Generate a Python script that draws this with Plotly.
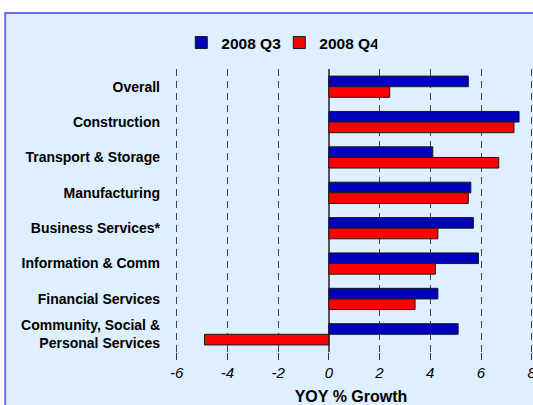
import plotly.graph_objects as go

categories = ["Overall", "Construction", "Transport & Storage", "Manufacturing",
              "Business Services*", "Information & Comm", "Financial Services",
              "Community, Social &<br>Personal Services"]
q3_values = [5.5, 7.5, 4.1, 5.6, 5.7, 5.9, 4.3, 5.1]
q4_values = [2.4, 7.3, 6.7, 5.5, 4.3, 4.2, 3.4, -4.9]
x_ticks = [-6, -4, -2, 0, 2, 4, 6, 8]

fig = go.Figure()
fig.add_trace(go.Bar(y=categories, x=q3_values, name="2008 Q3", orientation="h",
                     marker=dict(color="#0000B8", line=dict(color="#1a1a1a", width=1))))
fig.add_trace(go.Bar(y=categories, x=q4_values, name="2008 Q4", orientation="h",
                     marker=dict(color="#FF0000", line=dict(color="#1a1a1a", width=1))))

font_family = "Liberation Sans, Arial, sans-serif"

fig.update_layout(
    width=533, height=405,
    margin=dict(l=169, r=0, t=69, b=53, autoexpand=False),
    paper_bgcolor="white",
    plot_bgcolor="rgba(0,0,0,0)",
    barmode="group",
    bargap=0.4,
    bargroupgap=0.0,
    font=dict(family=font_family, color="black"),
    showlegend=True,
    legend=dict(orientation="h", x=0.303, xanchor="center", y=1.092, yanchor="middle",
                font=dict(size=15.5, weight="bold"), bgcolor="rgba(0,0,0,0)",
                entrywidth=53, entrywidthmode="pixels", traceorder="normal"),
    xaxis=dict(range=[-6.3, 8.05], tickvals=x_ticks, ticktext=[str(v) for v in x_ticks],
               showgrid=True, gridcolor="#444444", griddash="7px,5px", gridwidth=1,
               zeroline=True, zerolinecolor="#555555", zerolinewidth=2,
               ticks="outside", ticklen=7, tickcolor="#333333", tickwidth=1,
               tickfont=dict(size=15, style="italic"),
               ticklabeloverflow="allow", automargin=False,
               showline=False,
               title=dict(text="YOY % Growth", font=dict(size=16, weight="bold"), standoff=10)),
    yaxis=dict(categoryorder="array", categoryarray=categories, autorange="reversed",
               showgrid=False, zeroline=False, showline=False, ticks="",
               ticklabelstandoff=8, automargin=False,
               tickfont=dict(size=14, weight="bold")),
    shapes=[dict(type="rect", xref="paper", yref="paper",
                 x0=-0.45, x1=1.3, y0=-0.5, y1=1.198,
                 fillcolor="#DEEFFF", line=dict(color="#6A6AF0", width=2), layer="below")],
)

fig.write_html("out.html")
